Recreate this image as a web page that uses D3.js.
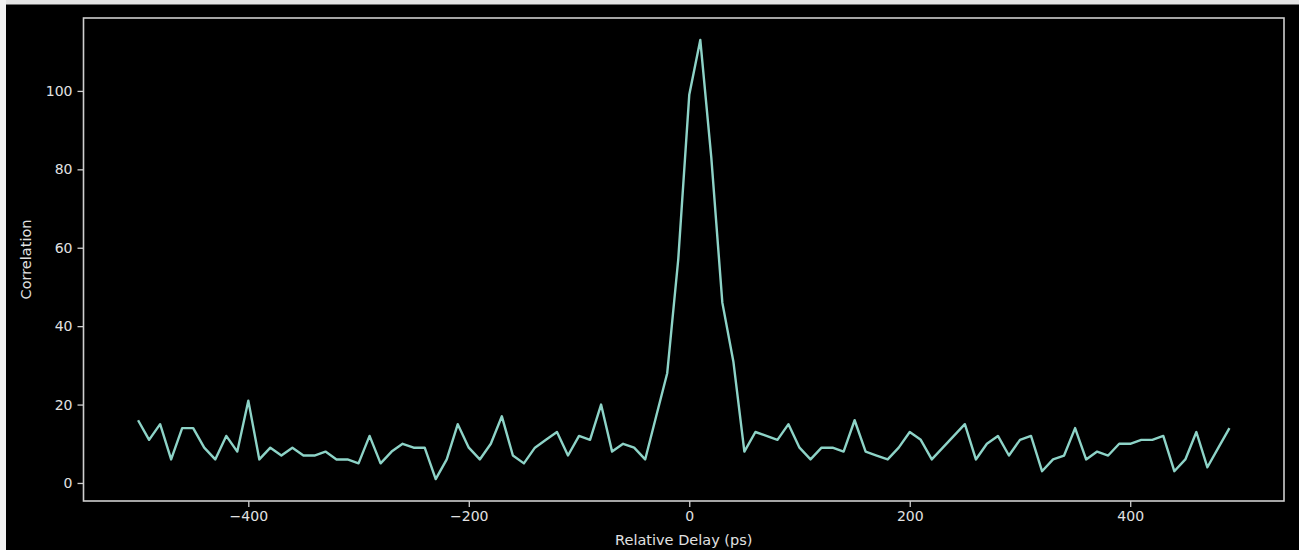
<!DOCTYPE html>
<html>
<head>
<meta charset="utf-8">
<script src="https://cdn.jsdelivr.net/npm/d3@7"></script>
<style>
  html, body { margin: 0; padding: 0; background: #000; }
  svg { display: block; }
  text { font-family: "DejaVu Sans", sans-serif; }
</style>
</head>
<body>
<svg id="chart" width="1299" height="550"></svg>
<script>
// Relative delay (ps), one sample every 10 ps from -500 to 490
const delays = [
  -500,-490,-480,-470,-460,-450,-440,-430,-420,-410,
  -400,-390,-380,-370,-360,-350,-340,-330,-320,-310,
  -300,-290,-280,-270,-260,-250,-240,-230,-220,-210,
  -200,-190,-180,-170,-160,-150,-140,-130,-120,-110,
  -100,-90,-80,-70,-60,-50,-40,-30,-20,-10,
  0,10,20,30,40,50,60,70,80,90,
  100,110,120,130,140,150,160,170,180,190,
  200,210,220,230,240,250,260,270,280,290,
  300,310,320,330,340,350,360,370,380,390,
  400,410,420,430,440,450,460,470,480,490
];
const correlation = [
  16,11,15,6,14,14,9,6,12,8,
  21,6,9,7,9,7,7,8,6,6,
  5,12,5,8,10,9,9,1,6,15,
  9,6,10,17,7,5,9,11,13,7,
  12,11,20,8,10,9,6,17,28,57,
  99,113,83,46,31,8,13,12,11,15,
  9,6,9,9,8,16,8,7,6,9,
  13,11,6,9,12,15,6,10,12,7,
  11,12,3,6,7,14,6,8,7,10,
  10,11,11,12,3,6,13,4,9,14
];
const xTicks = [-400, -200, 0, 200, 400];
const yTicks = [0, 20, 40, 60, 80, 100];
const xLabel = "Relative Delay (ps)";
const yLabel = "Correlation";

const svg = d3.select("#chart");
const W = 1299, H = 550;
const plot = { left: 83.5, right: 1284, top: 18, bottom: 501 };

// light strips at the top and left edges of the picture
svg.append("rect").attr("x", 0).attr("y", 0).attr("width", W).attr("height", H).attr("fill", "#000");
svg.append("rect").attr("x", 0).attr("y", 0).attr("width", W).attr("height", 4.5).attr("fill", "#e4e4e4");
svg.append("rect").attr("x", 0).attr("y", 0).attr("width", 6).attr("height", H).attr("fill", "#f2f2f2");

const xExt = d3.extent(delays), yExt = d3.extent(correlation);
const xPad = (xExt[1] - xExt[0]) * 0.05, yPad = (yExt[1] - yExt[0]) * 0.05;
const x = d3.scaleLinear().domain([xExt[0] - xPad, xExt[1] + xPad]).range([plot.left, plot.right]);
const y = d3.scaleLinear().domain([yExt[0] - yPad, yExt[1] + yPad]).range([plot.bottom, plot.top]);

const fmt = d => (d < 0 ? "\u2212" + Math.abs(d) : String(d));
const axisColor = "#cfcfcf", textColor = "#e2e2e2";

// x axis
const gx = svg.append("g").attr("transform", `translate(0,${plot.bottom})`)
  .call(d3.axisBottom(x).tickValues(xTicks).tickFormat(fmt).tickSize(6).tickPadding(4));
// y axis
const gy = svg.append("g").attr("transform", `translate(${plot.left},0)`)
  .call(d3.axisLeft(y).tickValues(yTicks).tickFormat(fmt).tickSize(6).tickPadding(5));

[gx, gy].forEach(g => {
  g.select(".domain").remove();
  g.selectAll(".tick line").attr("stroke", axisColor).attr("stroke-width", 1.3);
  g.selectAll(".tick text").attr("fill", textColor).attr("font-size", 14)
    .attr("font-family", "DejaVu Sans, sans-serif");
});

// frame
svg.append("rect")
  .attr("x", plot.left).attr("y", plot.top)
  .attr("width", plot.right - plot.left).attr("height", plot.bottom - plot.top)
  .attr("fill", "none").attr("stroke", axisColor).attr("stroke-width", 1.6);

// line
const line = d3.line().x((d, i) => x(delays[i])).y(d => y(d));
svg.append("path").datum(correlation)
  .attr("d", line)
  .attr("fill", "none")
  .attr("stroke", "#8dd3c7")
  .attr("stroke-width", 2.4)
  .attr("stroke-linejoin", "round");

// labels
svg.append("text")
  .attr("x", (plot.left + plot.right) / 2).attr("y", 545)
  .attr("text-anchor", "middle").attr("fill", textColor).attr("font-size", 14.5)
  .text(xLabel);
svg.append("text")
  .attr("transform", `translate(31,${(plot.top + plot.bottom) / 2}) rotate(-90)`)
  .attr("text-anchor", "middle").attr("fill", textColor).attr("font-size", 14.5)
  .text(yLabel);
</script>
</body>
</html>
